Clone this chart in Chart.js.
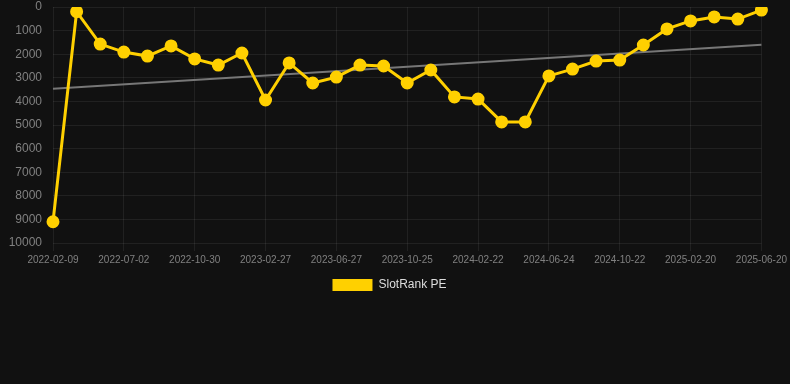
<!DOCTYPE html>
<html>
<head>
<meta charset="utf-8">
<script src="https://cdn.jsdelivr.net/npm/chart.js@4"></script>
<style>
  html, body { margin: 0; padding: 0; background: #111111; }
  #wrap { position: relative; width: 790px; height: 301px; }
</style>
</head>
<body>
<div id="wrap"><canvas id="c"></canvas></div>
<script>
const categories = [
  "2022-02-09","2022-03-27","2022-05-15","2022-07-02","2022-08-11","2022-09-20",
  "2022-10-30","2022-12-09","2023-01-18","2023-02-27","2023-04-08","2023-05-18",
  "2023-06-27","2023-08-06","2023-09-15","2023-10-25","2023-12-04","2024-01-13",
  "2024-02-22","2024-04-02","2024-05-13","2024-06-24","2024-08-03","2024-09-12",
  "2024-10-22","2024-12-01","2025-01-10","2025-02-20","2025-04-01","2025-05-11",
  "2025-06-20"
];
const rankValues = [
  9100, 200, 1570, 1910, 2080, 1650, 2200, 2460, 1950, 3940, 2370,
  3220, 2970, 2460, 2500, 3220, 2670, 3810, 3900, 4870, 4870,
  2920, 2630, 2290, 2250, 1610, 930, 590, 420, 510, 130
];
const trendStart = 3460;
const trendEnd = 1600;
const yTicks = [0,1000,2000,3000,4000,5000,6000,7000,8000,9000,10000];
const labelEvery = 3;

const trendData = categories.map((_, i) =>
  i === 0 ? trendStart : (i === categories.length - 1 ? trendEnd : null));

const gridColor = 'rgba(255,255,255,0.07)';
const FONT = 'Arial, "Liberation Sans", sans-serif';

new Chart(document.getElementById('c'), {
  type: 'line',
  data: {
    labels: categories,
    datasets: [
      {
        label: 'SlotRank PE',
        data: rankValues,
        borderColor: '#FFD000',
        backgroundColor: '#FFD000',
        borderWidth: 3,
        pointRadius: 5,
        pointHoverRadius: 5,
        pointBackgroundColor: '#FFD000',
        pointBorderColor: '#FFD000',
        tension: 0,
        order: 1
      },
      {
        label: 'trend',
        data: trendData,
        borderColor: '#777777',
        backgroundColor: '#777777',
        borderWidth: 2,
        pointRadius: 0,
        spanGaps: true,
        tension: 0,
        order: 2
      }
    ]
  },
  options: {
    responsive: true,
    maintainAspectRatio: false,
    animation: false,
    layout: { autoPadding: false, padding: { left: 0, right: 11, top: 0, bottom: 0 } },
    font: { family: FONT },
    scales: {
      x: {
        type: 'category',
        offset: false,
        grid: {
          color: (ctx) => (ctx.index % labelEvery === 0 ? gridColor : 'rgba(0,0,0,0)'),
          tickLength: 8
        },
        border: { display: false },
        ticks: {
          autoSkip: false,
          maxRotation: 0,
          minRotation: 0,
          color: '#808080',
          font: { size: 10, family: FONT },
          callback: function(value, index) {
            return index % labelEvery === 0 ? categories[index] : '';
          }
        }
      },
      y: {
        reverse: true,
        min: 0,
        max: 10000,
        afterBuildTicks: (axis) => { axis.ticks = yTicks.map(v => ({ value: v })); },
        afterFit: (axis) => { axis.width = 53; axis.paddingTop = 7; axis.paddingBottom = 7; },
        grid: { color: gridColor, drawTicks: false },
        border: { display: false },
        ticks: {
          padding: 11,
          color: '#808080',
          font: { size: 12, family: FONT },
          callback: (v) => String(v)
        }
      }
    },
    plugins: {
      legend: {
        position: 'bottom',
        labels: {
          color: '#dddddd',
          boxWidth: 40,
          boxHeight: 12,
          font: { size: 12, family: FONT },
          filter: (item) => item.text === 'SlotRank PE',
          generateLabels: (chart) =>
            Chart.defaults.plugins.legend.labels.generateLabels(chart)
              .map(it => Object.assign(it, { lineWidth: 0 }))
        }
      },
      tooltip: { enabled: false }
    }
  }
});
</script>
</body>
</html>
